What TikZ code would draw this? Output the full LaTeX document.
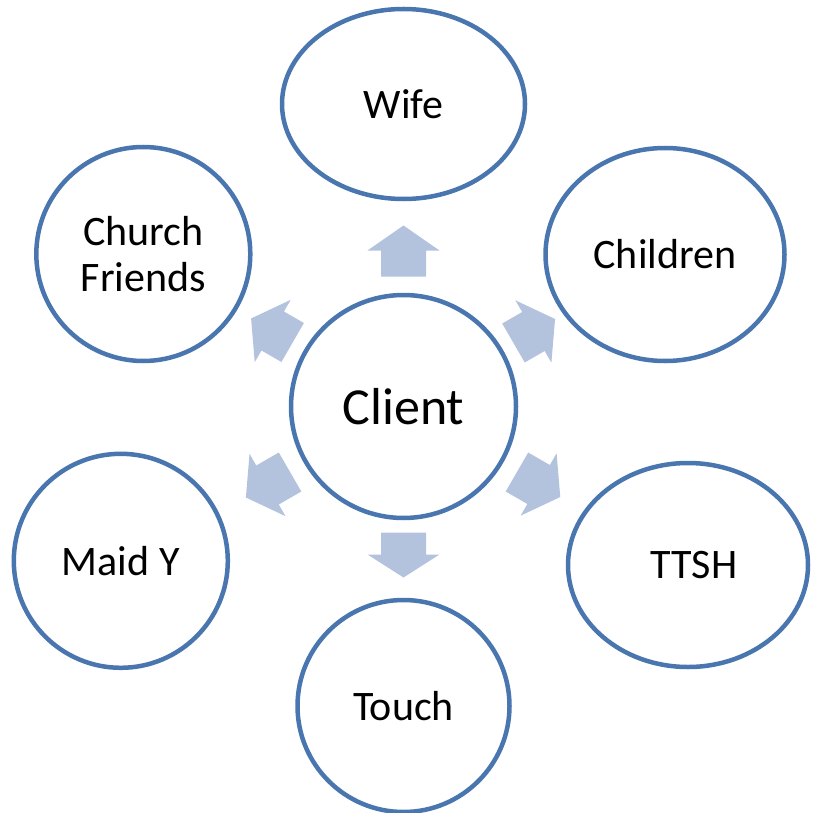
\documentclass[tikz,border=0pt]{standalone}
\usepackage{fontspec}
\setmainfont{Carlito}
\usetikzlibrary{shapes.geometric}
\definecolor{ringblue}{HTML}{4A76B0}
\definecolor{arrowfill}{HTML}{B3C3DE}
\begin{document}
\begin{tikzpicture}[x=1pt,y=-1pt,
  ring/.style={ellipse, draw=ringblue, line width=4.5pt, fill=white,
    inner sep=0pt, align=center, font=\fontsize{42}{46}\selectfont},
  hub/.style={ring, font=\fontsize{52}{60}\selectfont},
  blockarrow/.style={fill=arrowfill}]
\useasboundingbox (0,0) rectangle (813,813);

% outer circles
\node[ring, minimum width=243pt, minimum height=190pt] (wife) at (403.5,104) {Wife};
\node[ring, minimum width=214pt, minimum height=214pt] (church) at (143.3,254) {Church\\Friends};
\node[ring, minimum width=239pt, minimum height=213pt] (children) at (665,254.5) {Children};
\node[ring, minimum width=214pt, minimum height=214pt] (maid) at (120.8,560.8) {Maid Y};
\node[ring, minimum width=240pt, minimum height=204pt] (ttsh) at (688,565) {\hspace*{12pt}TTSH};
\node[ring, minimum width=212pt, minimum height=212pt] (touch) at (403.5,706) {Touch};

% central circle
\node[hub, minimum width=225pt, minimum height=223pt] (client) at (403.5,406.5) {Client};

% block arrows pointing out of the centre
\foreach \ang/\ra/\rb/\hl in {90/130/181/25, 30/127/175/25, 150/128/176/25,
                               210/131/182/25, -30/131/181/25, 270/126/171/23}{
  \begin{scope}[shift={(client.center)}, rotate=\ang]
    \fill[blockarrow] (\ra,-22.5) -- ({\rb-\hl},-22.5) -- ({\rb-\hl},-36)
      -- (\rb,0) -- ({\rb-\hl},36) -- ({\rb-\hl},22.5) -- (\ra,22.5) -- cycle;
  \end{scope}
}
\end{tikzpicture}
\end{document}
